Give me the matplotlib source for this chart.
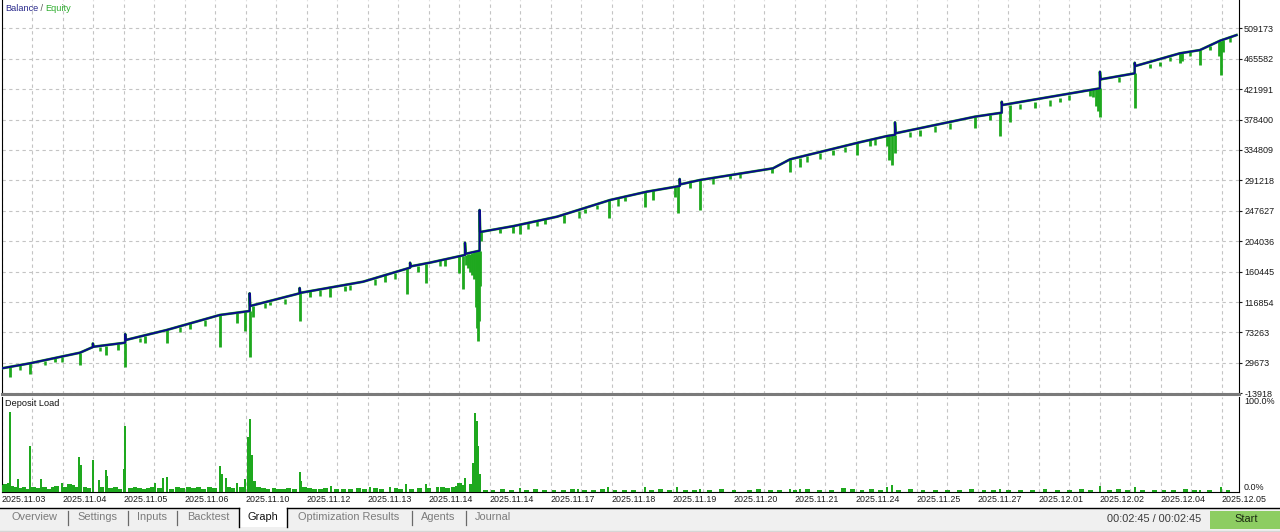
import matplotlib
matplotlib.use("Agg")
import matplotlib.pyplot as plt
from matplotlib.patches import Rectangle

# ---------------- data ----------------
date_labels = ['2025.11.03', '2025.11.04', '2025.11.05', '2025.11.06', '2025.11.10',
               '2025.11.12', '2025.11.13', '2025.11.14', '2025.11.14', '2025.11.17',
               '2025.11.18', '2025.11.19', '2025.11.20', '2025.11.21', '2025.11.24',
               '2025.11.25', '2025.11.27', '2025.12.01', '2025.12.02', '2025.12.04',
               '2025.12.05']
date_tick_deals = [0, 100, 200, 300, 400, 500, 600, 700, 800, 900, 1000, 1100, 1200,
                   1300, 1400, 1500, 1600, 1700, 1800, 1900, 2000]

y_tick_values = [-13918, 29673, 73263, 116854, 160445, 204036, 247627, 291218,
                 334809, 378400, 421991, 465582, 509173]

bal_deal = [0, 46, 128, 149, 149, 150, 202, 202, 203, 270, 357, 406, 406, 407, 488,
            488, 489, 592, 669, 669, 670, 701, 759, 759, 760, 783, 783, 784, 839, 910,
            997, 1057, 1111, 1111, 1112, 1144, 1264, 1292, 1406, 1451, 1464, 1464, 1465,
            1595, 1639, 1639, 1640, 1800, 1800, 1801, 1857, 1857, 1858, 1931, 1964,
            1997, 2024]
bal_value = [21900, 29100, 44300, 52400, 57500, 52800, 58600, 71000, 62500, 76800,
             98300, 104000, 129400, 111200, 129400, 137000, 130000, 146000, 166100,
             173200, 168000, 173200, 184300, 201900, 186000, 190400, 248800, 217200,
             225800, 239200, 263100, 275000, 283100, 293200, 285500, 291700, 308500,
             321400, 345800, 354800, 356500, 374400, 358700, 382500, 388200, 403900,
             399200, 423100, 446900, 436000, 444600, 459800, 455100, 473300, 478000,
             491400, 499500]

# larger equity drawdowns: deal, balance level above, lowest equity
dip_deal = [13, 46, 87, 128, 170, 190, 202, 234, 270, 308, 357, 385, 398, 406, 412,
            439, 488, 505, 538, 562, 628, 664, 682, 695, 726, 749, 755, 760, 764, 767,
            770, 774, 777, 779, 780, 782, 783, 785, 816, 837, 849, 890, 921, 956, 995,
            1021, 1054, 1067, 1103, 1108, 1128, 1144, 1193, 1262, 1292, 1308, 1362,
            1401, 1423, 1451, 1455, 1459, 1464, 1505, 1595, 1619, 1636, 1652, 1693,
            1734, 1783, 1789, 1794, 1797, 1800, 1857, 1882, 1899, 1931, 1934, 1964,
            1981, 1995, 1998, 2001]
dip_top = [24000, 29100, 36500, 44300, 54500, 57000, 58600, 67500, 76800, 86300,
           98300, 101500, 103000, 104000, 111500, 117000, 129400, 132500, 137500,
           140500, 155000, 165000, 169000, 171800, 178000, 182500, 183500, 184500,
           185500, 186300, 187200, 188000, 189000, 189500, 189800, 190200, 190400,
           217500, 222000, 225600, 227800, 235300, 241600, 250700, 262600, 267600,
           274500, 277000, 282000, 282800, 288800, 291700, 298600, 308300, 321400,
           323500, 334800, 344700, 348500, 354800, 355300, 355900, 356500, 363700,
           382500, 385600, 387800, 399500, 403500, 409500, 420600, 421500, 422300,
           422700, 423100, 444600, 457500, 461000, 473300, 473700, 478000, 484500,
           490600, 491600, 492000]
dip_low = [9900, 13700, 31000, 26600, 41000, 48000, 23300, 58000, 58600, 78000,
           52900, 86800, 75000, 37700, 95000, 112000, 90100, 124000, 124500, 133000,
           146000, 128400, 160000, 144600, 168000, 158000, 135100, 170000, 165000,
           160000, 155000, 150000, 110000, 80000, 61000, 90000, 140000, 205000,
           216000, 215800, 214400, 229000, 230600, 245000, 236900, 262000, 253500,
           263100, 268000, 244000, 280000, 248800, 293000, 302200, 303600, 310000,
           327600, 327600, 340000, 340000, 320000, 313200, 330000, 355000, 365800,
           378000, 354800, 375300, 394500, 404000, 412000, 410000, 398000, 390000,
           382500, 394500, 452000, 455000, 459000, 462000, 456500, 478000, 470000,
           442200, 475000]

# small equity drawdowns
sdip_deal = [30, 70, 98, 161, 226, 292, 333, 431, 464, 521, 570, 611, 644, 718, 862,
             877, 946, 975, 1010, 1165, 1210, 1319, 1341, 1382, 1431, 1488, 1529,
             1554, 1669, 1718, 1750, 1832, 1915, 1947, 2013]
sdip_top = [26500, 33000, 38500, 53000, 65500, 81000, 91000, 115500, 121500, 134000,
            141000, 150000, 159000, 176500, 230000, 232500, 248000, 256500, 265500,
            294500, 301500, 325500, 330000, 339500, 350500, 361000, 368500, 373500,
            400500, 406500, 413500, 440000, 468500, 475500, 496500]
sdip_low = [20000, 27000, 31000, 46000, 59000, 74000, 83000, 108000, 114000, 126000,
            134000, 142000, 150000, 168000, 222000, 226000, 238000, 250000, 254500,
            286000, 294000, 318000, 322000, 332000, 342000, 353000, 361000, 365000,
            393000, 398000, 406000, 432000, 462000, 469000, 490000]

load_deal = [13, 10, 20, 26, 46, 64, 98, 126, 130, 149, 159, 170, 172, 202, 200, 251,
             264, 270, 357, 360, 367, 385, 398, 403, 406, 409, 414, 488, 490, 539, 603,
             636, 662, 695, 714, 755, 759, 768, 773, 776, 779, 781, 784, 849, 944, 993,
             1054, 1107, 1144, 1292, 1308, 1451, 1459, 1636, 1800, 1857, 1964, 1998]
load_pct = [88, 10, 6, 14, 50, 14, 10, 38, 30, 35, 13, 24, 18, 72, 25, 10, 15, 16,
            29, 20, 15, 10, 14, 60, 80, 40, 12, 22, 12, 7, 6, 6, 9, 9, 5, 8, 15, 9, 32,
            87, 78, 50, 20, 4, 3, 5, 5, 6, 3, 3, 3, 6, 8, 3, 7, 5, 2, 6]

fuzz_deal = [2, 6, 16, 22, 30, 36, 40, 52, 58, 70, 76, 84, 90, 104, 110, 116, 120, 136,
             142, 164, 178, 186, 192, 210, 218, 226, 232, 240, 246, 258, 278, 288, 296,
             306, 314, 322, 330, 340, 348, 372, 378, 392, 420, 428, 436, 446, 454, 462,
             470, 480, 496, 504, 512, 522, 530, 548, 560, 572, 584, 594, 612, 622, 646,
             654, 672, 684, 700, 722, 730, 740, 746, 750,
             792, 805, 820, 835, 860, 875, 890, 905, 920, 935, 955, 970, 985, 1005,
             1020, 1035, 1065, 1080, 1095, 1120, 1135, 1160, 1180, 1200, 1225, 1240,
             1260, 1275, 1300, 1320, 1340, 1360, 1380, 1395, 1410, 1425, 1440, 1470,
             1490, 1510, 1530, 1550, 1570, 1590, 1610, 1625, 1650, 1670, 1690, 1710,
             1730, 1750, 1770, 1785, 1815, 1830, 1845, 1870, 1890, 1905, 1920, 1940,
             1955, 1980, 2010]
fuzz_pct = [8, 9, 7, 5, 4, 6, 3, 5, 4, 6, 3, 5, 7, 6, 9, 8, 6, 5, 4, 6, 4, 5, 3, 4, 6,
            4, 3, 4, 5, 4, 3, 5, 4, 6, 4, 5, 3, 5, 4, 6, 4, 5, 5, 4, 3, 4, 3, 3, 4, 3,
            5, 4, 3, 3, 4, 3, 3, 3, 4, 3, 4, 3, 4, 3, 3, 4, 4, 5, 4, 6, 7, 10,
            2, 2, 3, 2, 2, 3, 2, 2, 2, 3, 2, 2, 3, 2, 2, 2, 2, 3, 2, 2, 2, 2, 3, 2, 2,
            3, 2, 2, 2, 3, 2, 2, 4, 3, 2, 3, 2, 2, 3, 2, 2, 2, 2, 3, 2, 2, 2, 2, 2, 3,
            2, 2, 3, 2, 2, 3, 2, 2, 2, 2, 2, 3, 2, 2, 2]

# ---------------- style ----------------
W, H = 1280, 532
FONT = 'Liberation Sans'
NAVY = '#0a0a8c'
GREEN = '#1ea81e'
GRID = '#c4c4c4'
plt.rcParams['font.family'] = [FONT, 'DejaVu Sans']

fig = plt.figure(figsize=(W / 100, H / 100), dpi=100, facecolor='white')

def fx(px):
    return px / W

def fy(py):
    return 1 - py / H

XMAX = 2028

# main panel
ax = fig.add_axes([fx(2), fy(394), fx(1237), 394 / H])
ax.set_xlim(0, XMAX)
ax.set_ylim(-14920, 549727)
ax.plot(bal_deal, bal_value, color=GREEN, lw=1.9, zorder=3)
ax.vlines(dip_deal, dip_low, dip_top, colors=GREEN, lw=2.0, zorder=3)
ax.vlines(sdip_deal, sdip_low, sdip_top, colors=GREEN, lw=1.8, zorder=3)
ax.plot(bal_deal, bal_value, color=NAVY, lw=1.4, zorder=4)

ax.set_yticks(y_tick_values)
ax.set_yticklabels([str(v) for v in y_tick_values])
ax.yaxis.tick_right()
ax.tick_params(axis='y', length=2.2, width=0.8, pad=1.5, labelsize=6.5,
               colors='#1a1a1a')
ax.set_xticks(date_tick_deals)
ax.set_xticks(list(range(50, 2001, 100)), minor=True)
ax.tick_params(axis='x', which='both', length=0, labelbottom=False)
ax.grid(True, which='both', axis='x', color=GRID, linestyle=(0, (3, 3)), lw=0.8)
ax.grid(True, which='major', axis='y', color=GRID, linestyle=(0, (3, 3)), lw=0.8)
ax.set_axisbelow(True)
ax.spines['top'].set_visible(False)
ax.spines['left'].set_color('black')
ax.spines['right'].set_color('black')
ax.spines['bottom'].set_color('#7a7a7a')
ax.spines['bottom'].set_linewidth(2.2)

# deposit load panel
ax2 = fig.add_axes([fx(2), fy(492), fx(1237), 95 / H])
ax2.set_xlim(0, XMAX)
ax2.set_ylim(0, 104)
ax2.bar(fuzz_deal, fuzz_pct, width=8, color=GREEN, lw=0, zorder=3)
ax2.bar(load_deal, load_pct, width=3.5, color=GREEN, lw=0, zorder=3)
ax2.set_yticks([0, 100])
ax2.set_yticklabels(['0.0%', '100.0%'])
ax2.yaxis.tick_right()
ax2.tick_params(axis='y', length=0, pad=3.6, labelsize=6.5, colors='#1a1a1a')
ax2.get_yticklabels()[0].set_va('bottom')
ax2.set_xticks(date_tick_deals)
ax2.set_xticklabels(date_labels, ha='left')
ax2.set_xticks(list(range(50, 2001, 100)), minor=True)
ax2.tick_params(axis='x', which='both', length=0, pad=1.8, labelsize=6.4,
                colors='#1a1a1a')
ax2.grid(True, which='both', axis='x', color=GRID, linestyle=(0, (3, 3)), lw=0.8)
ax2.set_axisbelow(True)
ax2.spines['top'].set_visible(False)
for s in ('left', 'right', 'bottom'):
    ax2.spines[s].set_color('black')

# UI overlay (pixel coordinates)
ui = fig.add_axes([0, 0, 1, 1], facecolor='none')
ui.set_xlim(0, W)
ui.set_ylim(H, 0)
ui.axis('off')

t1 = ui.text(5, 8.5, 'Balance', color='#2a2a8c', fontsize=6.6, va='center')
t2 = ui.annotate(' / ', xy=(1, 0.5), xycoords=t1, va='center', color='#555555',
                 fontsize=6.6)
ui.annotate('Equity', xy=(1, 0.5), xycoords=t2, va='center', color='#2fae2f',
            fontsize=6.6)
ui.text(5, 404, 'Deposit Load', color='#111111', fontsize=6.6, va='center')

# tab bar
ui.add_patch(Rectangle((0, 508), W, 24, facecolor='#f0f0f0', edgecolor='none'))
ui.plot([0, 239], [508, 508], color='black', lw=1)
ui.plot([287, W], [508, 508], color='black', lw=1)
ui.add_patch(Rectangle((239, 508), 48, 19, facecolor='white', edgecolor='none'))
ui.plot([239, 239], [508, 527], color='black', lw=1)
ui.plot([287, 287], [508, 527], color='black', lw=1)
ui.plot([0, W], [530.5, 530.5], color='#d6d6d6', lw=1)

tabs = [('Overview', 12), ('Settings', 77), ('Inputs', 137), ('Backtest', 187),
        ('Optimization Results', 298), ('Agents', 421), ('Journal', 475)]
for label, x in tabs:
    ui.text(x, 517.5, label, color='#7c7c7c', fontsize=7.9, va='center')
for x in (68, 127.5, 177, 411.5, 465.5):
    ui.plot([x, x], [511, 525], color='#6a6a6a', lw=0.9)
ui.text(263, 517.5, 'Graph', color='#111111', fontsize=7.9, va='center', ha='center')

ui.text(1201, 519, '00:02:45 / 00:02:45', color='#3a3a3a', fontsize=7.9,
        va='center', ha='right')
ui.add_patch(Rectangle((1210, 510.5), 70, 18, facecolor='#8dcd62', edgecolor='none'))
ui.text(1246, 519.5, 'Start', color='#1b2a12', fontsize=7.9, va='center', ha='center')

fig.savefig('out.png', dpi=100, facecolor='white')
